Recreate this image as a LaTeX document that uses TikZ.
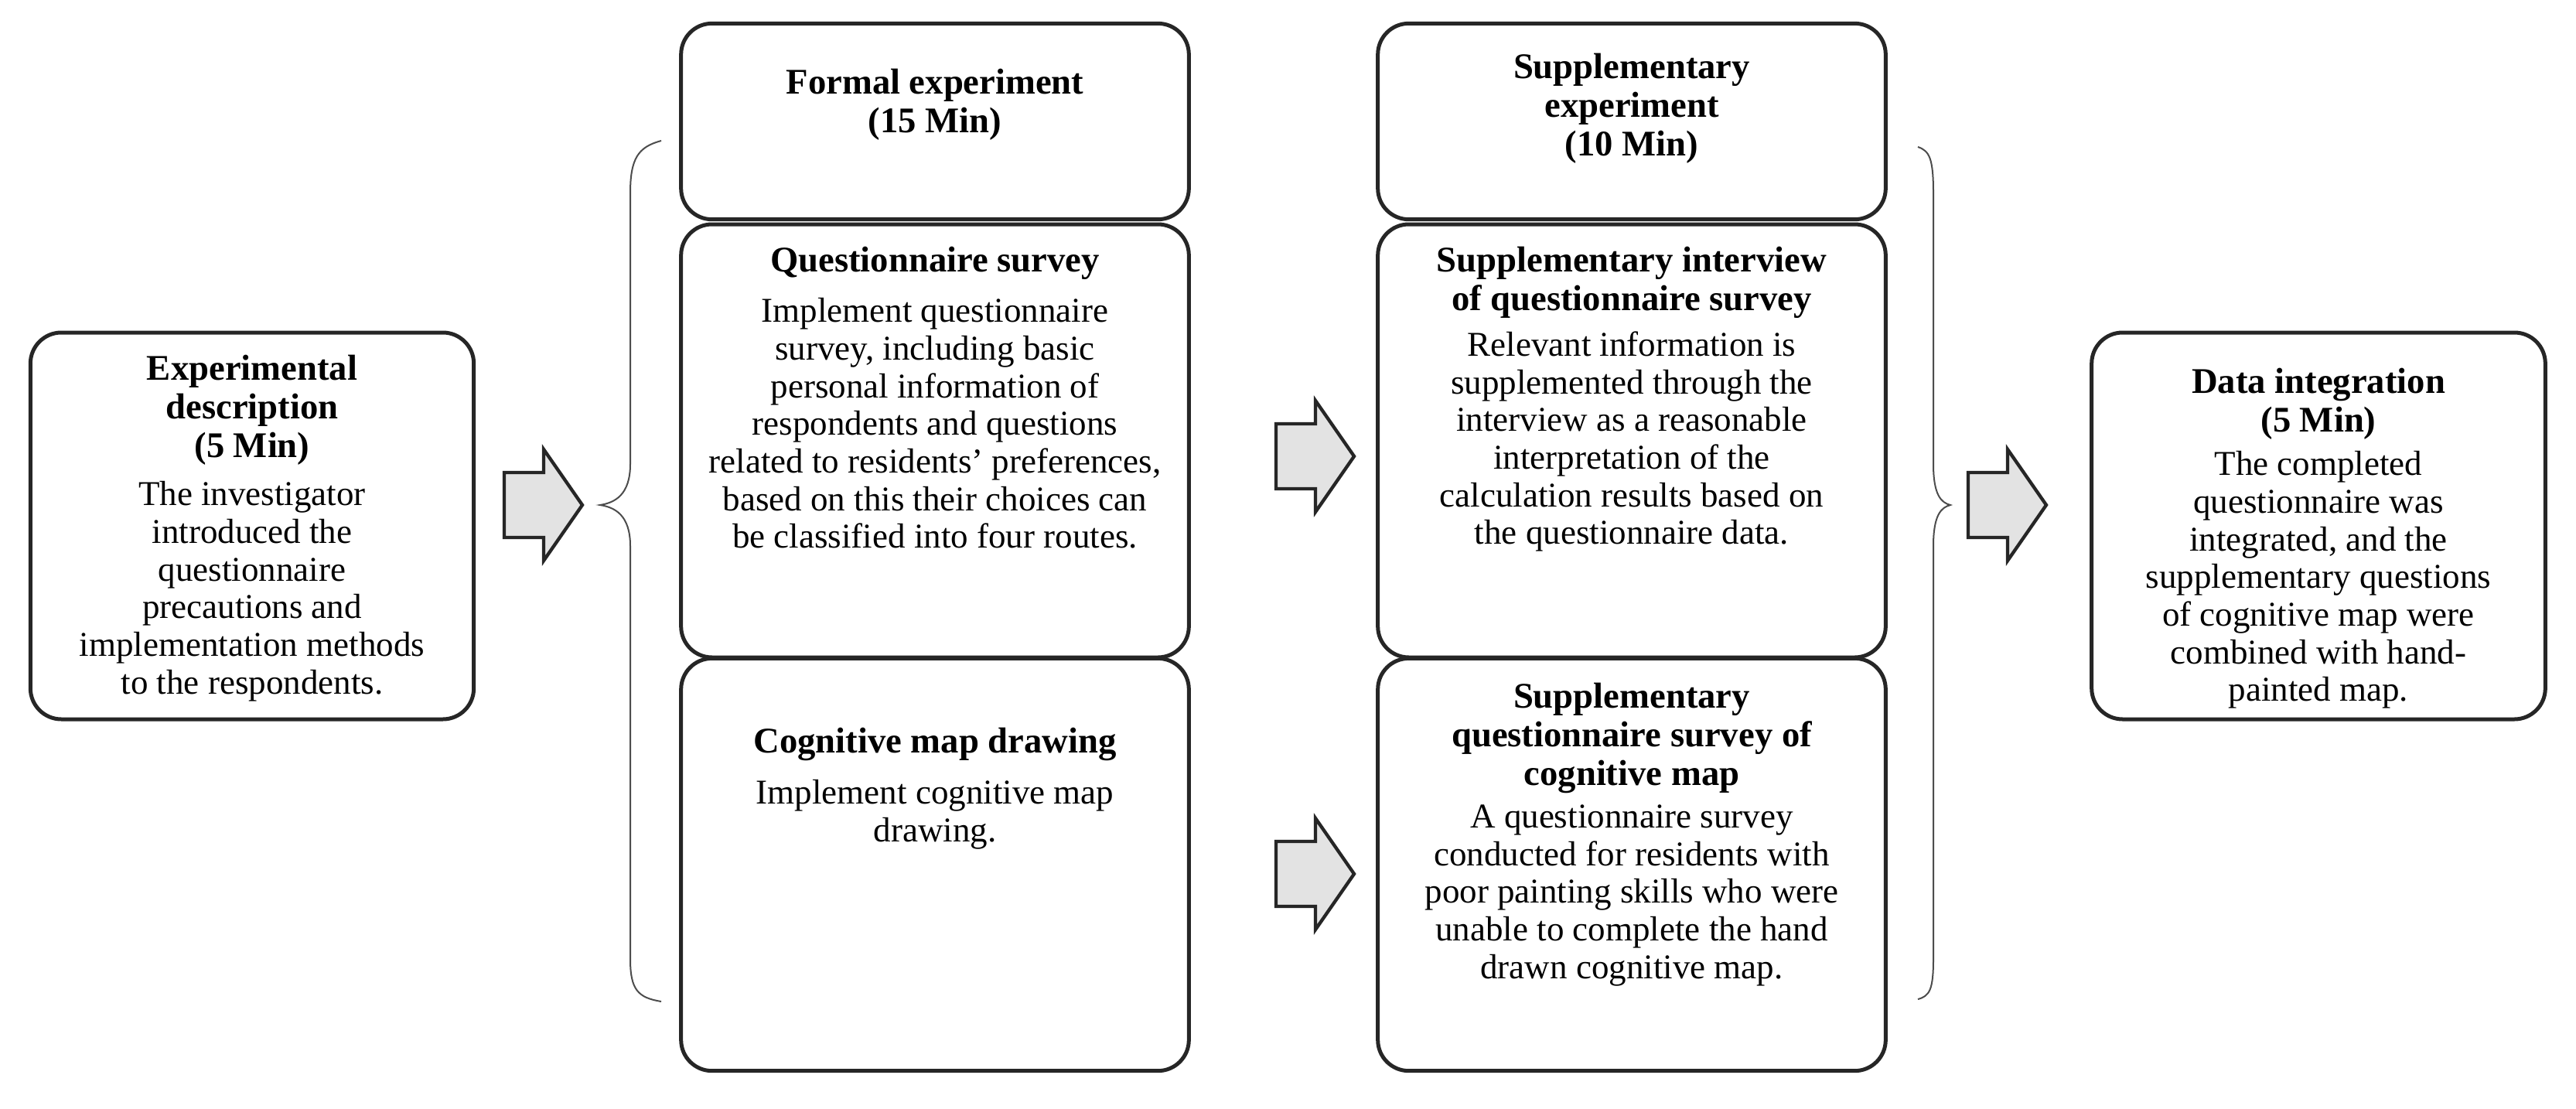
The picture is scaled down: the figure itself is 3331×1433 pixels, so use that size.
\documentclass[tikz,border=0pt]{standalone}
\usepackage{fontspec}
\setmainfont{Liberation Serif}
\begin{document}
\begin{tikzpicture}[x=0.3pt,y=-0.3pt,
  box/.style={draw=black!85,line width=1.5pt,rounded corners=12pt,minimum width=#1},
  txt/.style={align=center,font=\fontsize{13.5}{14.6}\selectfont,inner sep=0pt},
  ttl/.style={align=center,font=\fontsize{14}{15}\selectfont\bfseries,inner sep=0pt},
  blk/.style={draw=black!85,line width=1.3pt,fill=gray!22,line join=miter},
  brc/.style={draw=black!70,line width=0.6pt}]
\useasboundingbox (0,0) rectangle (3331,1433);
% boxes
\node[box=172pt,minimum height=150pt] (b1) at (326,680) {};
\node[box=197pt,minimum height=76pt] (h1) at (1209,157) {};
\node[box=197pt,minimum height=168pt] (q1) at (1209,570) {};
\node[box=197pt,minimum height=160pt] (c1) at (1209,1118) {};
\node[box=197pt,minimum height=76pt] (h2) at (2110,157) {};
\node[box=197pt,minimum height=168pt] (q2) at (2110,570) {};
\node[box=197pt,minimum height=160pt] (c2) at (2110,1118) {};
\node[box=176pt,minimum height=150pt] (b3) at (2998,680) {};
% texts
\node[ttl,anchor=north] (t1) at (326,458) {Experimental\\description\\(5 Min)};
\node[txt,anchor=north] (x1) at (326,622) {The investigator\\introduced the\\questionnaire\\precautions and\\implementation methods\\to the respondents.};
\node[ttl] (th1) at (1209,135) {Formal experiment\\(15 Min)};
\node[ttl,anchor=north] (tq1) at (1209,318) {Questionnaire survey};
\node[txt,anchor=north] (xq1) at (1209,385) {Implement questionnaire\\survey, including basic\\personal information of\\respondents and questions\\related to residents' preferences,\\based on this their choices can\\be classified into four routes.};
\node[ttl,anchor=north] (tc1) at (1209,940) {Cognitive map drawing};
\node[txt,anchor=north] (xc1) at (1209,1008) {Implement cognitive map\\drawing.};
\node[ttl] (th2) at (2110,140) {Supplementary\\experiment\\(10 Min)};
\node[ttl,anchor=north] (tq2) at (2110,318) {Supplementary interview\\of questionnaire survey};
\node[txt,anchor=north] (xq2) at (2110,428) {Relevant information is\\supplemented through the\\interview as a reasonable\\interpretation of the\\calculation results based on\\the questionnaire data.};
\node[ttl,anchor=north] (tc2) at (2110,882) {Supplementary\\questionnaire survey of\\cognitive map};
\node[txt,anchor=north] (xc2) at (2110,1040) {A questionnaire survey\\conducted for residents with\\poor painting skills who were\\unable to complete the hand\\drawn cognitive map.};
\node[ttl,anchor=north] (t3) at (2998,475) {Data integration\\(5 Min)};
\node[txt,anchor=north] (x3) at (2998,583) {The completed\\questionnaire was\\integrated, and the\\supplementary questions\\of cognitive map were\\combined with hand-\\painted map.};
% block arrows
\foreach \cx/\cy in {652/653,1650/590,1650/1130,2545/653}{
  \draw[blk] (\cx,\cy-42) -- ++(51,0) -- ++(0,-30) -- ++(50,72) -- ++(-50,72) -- ++(0,-30) -- ++(-51,0) -- cycle;
}
% braces
\draw[brc] (855,182) .. controls (825,190) and (815,205) .. (815,250) -- (815,600)
  .. controls (815,640) and (795,650) .. (776,653)
  .. controls (795,656) and (815,666) .. (815,706) -- (815,1240)
  .. controls (815,1280) and (825,1290) .. (855,1295);
\draw[brc] (2480,190) .. controls (2495,195) and (2500,205) .. (2500,250) -- (2500,600)
  .. controls (2500,640) and (2510,650) .. (2522,653)
  .. controls (2510,656) and (2500,666) .. (2500,706) -- (2500,1240)
  .. controls (2500,1280) and (2495,1288) .. (2480,1292);
\end{tikzpicture}
\end{document}
